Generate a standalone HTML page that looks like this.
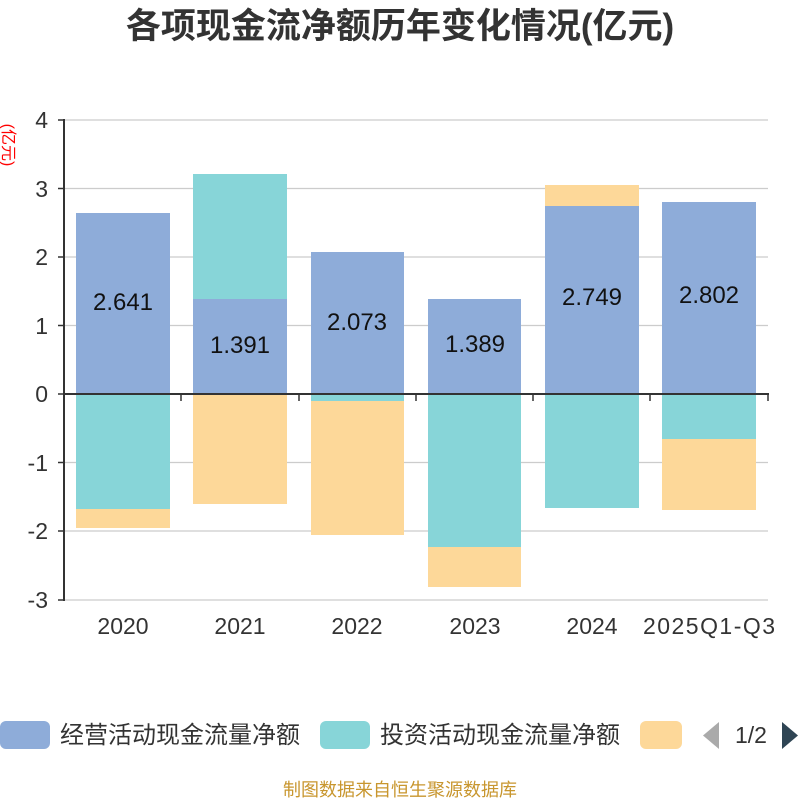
<!DOCTYPE html>
<html><head><meta charset="utf-8"><style>body{margin:0;background:#fff}svg{display:block}text{font-family:"Liberation Sans","Noto Sans CJK SC",sans-serif}</style></head>
<body>
<svg width="800" height="800" viewBox="0 0 800 800">
<text x="400" y="38" text-anchor="middle" font-size="35" font-weight="bold" fill="#333">各项现金流净额历年变化情况(亿元)</text>
<text transform="translate(3,145) rotate(90)" text-anchor="middle" font-size="16" fill="#f00">(亿元)</text>
<g stroke="#ccc" stroke-width="1.3">
<line x1="64" x2="768" y1="120" y2="120"/><line x1="64" x2="768" y1="188.5" y2="188.5"/><line x1="64" x2="768" y1="257" y2="257"/><line x1="64" x2="768" y1="325.5" y2="325.5"/><line x1="64" x2="768" y1="462.5" y2="462.5"/><line x1="64" x2="768" y1="531" y2="531"/><line x1="64" x2="768" y1="600" y2="600"/>
</g>
<g font-size="23" fill="#333" text-anchor="end">
<text x="48" y="128">4</text><text x="48" y="197">3</text><text x="48" y="265">2</text><text x="48" y="334">1</text><text x="48" y="402">0</text><text x="48" y="471">-1</text><text x="48" y="539">-2</text><text x="48" y="608">-3</text>
</g>
<g>
<rect x="76" y="213" width="94" height="181" fill="#8eacd9"/>
<rect x="76" y="394" width="94" height="115" fill="#87d5d8"/>
<rect x="76" y="509" width="94" height="19" fill="#fdd899"/>
<rect x="193" y="299" width="94" height="95" fill="#8eacd9"/>
<rect x="193" y="174" width="94" height="125" fill="#87d5d8"/>
<rect x="193" y="394" width="94" height="110" fill="#fdd899"/>
<rect x="311" y="252" width="93" height="142" fill="#8eacd9"/>
<rect x="311" y="394" width="93" height="7" fill="#87d5d8"/>
<rect x="311" y="401" width="93" height="134" fill="#fdd899"/>
<rect x="428" y="299" width="93" height="95" fill="#8eacd9"/>
<rect x="428" y="394" width="93" height="153" fill="#87d5d8"/>
<rect x="428" y="547" width="93" height="40" fill="#fdd899"/>
<rect x="545" y="206" width="94" height="188" fill="#8eacd9"/>
<rect x="545" y="185" width="94" height="21" fill="#fdd899"/>
<rect x="545" y="394" width="94" height="114" fill="#87d5d8"/>
<rect x="662" y="202" width="94" height="192" fill="#8eacd9"/>
<rect x="662" y="394" width="94" height="45" fill="#87d5d8"/>
<rect x="662" y="439" width="94" height="71" fill="#fdd899"/>
</g>
<g font-size="24" fill="#111" text-anchor="middle">
<text x="123" y="310">2.641</text><text x="240" y="353">1.391</text><text x="357" y="330">2.073</text><text x="475" y="352">1.389</text><text x="592" y="305">2.749</text><text x="709" y="303">2.802</text>
</g>
<g stroke="#333" stroke-width="2">
<line x1="64" y1="119" x2="64" y2="601"/>
<line x1="63" y1="394" x2="769" y2="394"/>
<g stroke-width="1.5">
<line x1="58" x2="64" y1="120" y2="120"/><line x1="58" x2="64" y1="188.5" y2="188.5"/><line x1="58" x2="64" y1="257" y2="257"/><line x1="58" x2="64" y1="325.5" y2="325.5"/><line x1="58" x2="64" y1="394" y2="394"/><line x1="58" x2="64" y1="462.5" y2="462.5"/><line x1="58" x2="64" y1="531" y2="531"/><line x1="58" x2="64" y1="600" y2="600"/>
<line x1="181" x2="181" y1="394" y2="401"/><line x1="299" x2="299" y1="394" y2="401"/><line x1="416" x2="416" y1="394" y2="401"/><line x1="533" x2="533" y1="394" y2="401"/><line x1="650" x2="650" y1="394" y2="401"/><line x1="768" x2="768" y1="394" y2="401"/>
</g>
</g>
<g font-size="23" fill="#333" text-anchor="middle">
<text x="123" y="634">2020</text><text x="240" y="634">2021</text><text x="357" y="634">2022</text><text x="475" y="634">2023</text><text x="592" y="634">2024</text><text x="709" y="634" textLength="132">2025Q1-Q3</text>
</g>
<rect x="0" y="721" width="50" height="28" rx="6" fill="#8eacd9"/>
<text x="60" y="743" font-size="24" fill="#333" textLength="240">经营活动现金流量净额</text>
<rect x="320" y="721" width="50" height="28" rx="6" fill="#87d5d8"/>
<text x="380" y="743" font-size="24" fill="#333" textLength="240">投资活动现金流量净额</text>
<rect x="640" y="721" width="42" height="28" rx="6" fill="#fdd899"/>
<polygon points="719,722 719,749 703,735.5" fill="#aaa"/>
<text x="751" y="743" font-size="23" fill="#333" text-anchor="middle">1/2</text>
<polygon points="782,722 782,749 798,735.5" fill="#2f4554"/>
<text x="400" y="796" font-size="18" fill="#c8962e" text-anchor="middle">制图数据来自恒生聚源数据库</text>
</svg>
</body></html>
